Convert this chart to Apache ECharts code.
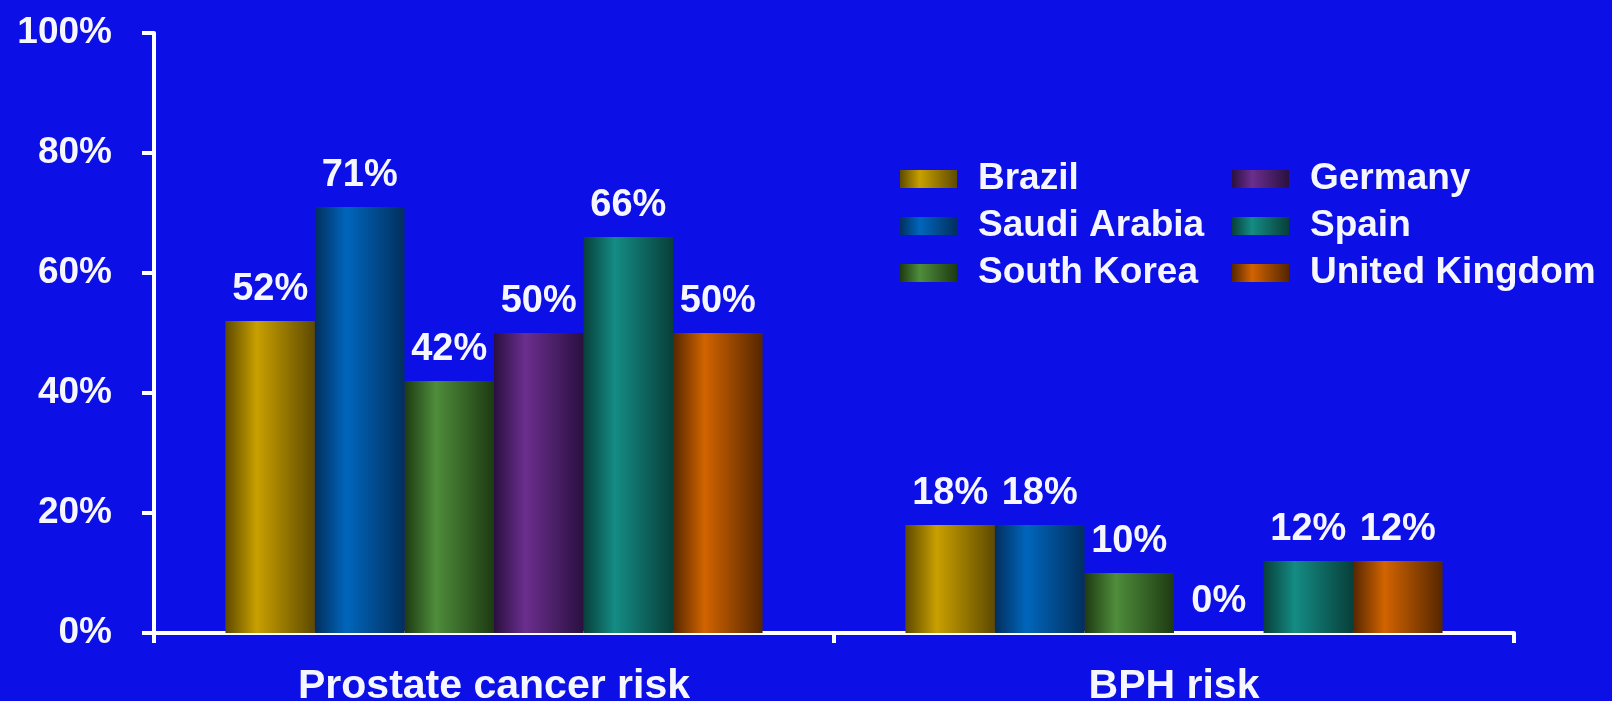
<!DOCTYPE html>
<html>
<head>
<meta charset="utf-8">
<script src="https://cdn.jsdelivr.net/npm/echarts@6/dist/echarts.min.js"></script>
<style>
    html, body { margin: 0; padding: 0; background: #0c10e6; }
    #risk { width: 1612px; height: 701px; }
</style>
</head>
<body>
<div id="risk"></div>
<script>
// categories + values per country (percent)
var categories = ['Prostate cancer risk', 'BPH risk'];
var countries = ['Brazil', 'Saudi Arabia', 'South Korea', 'Germany', 'Spain', 'United Kingdom'];
var brazil = [52, 18];
var saudiArabia = [71, 18];
var southKorea = [42, 10];
var germany = [50, 0];
var spain = [66, 12];
var unitedKingdom = [50, 12];
var yTicks = [0, 20, 40, 60, 80, 100];

// [edge, middle] for the cylinder look
var colors = [
    ['#5e4a00', '#c9a000'],
    ['#022f5e', '#0066bc'],
    ['#1d3a12', '#4f8d3b'],
    ['#2a1040', '#6b2e8e'],
    ['#083f3a', '#148c84'],
    ['#552600', '#d26400']
];

var font = "'Liberation Sans', Arial, sans-serif";
var values = [brazil, saudiArabia, southKorea, germany, spain, unitedKingdom];

var chart = echarts.init(document.getElementById('risk'));

var series = [];
values.forEach(function (data, i) {
    series.push({
        name: countries[i],
        type: 'bar',
        data: data,
        barGap: '0%',
        barCategoryGap: '21%',
        itemStyle: {
            color: new echarts.graphic.LinearGradient(0, 0, 1, 0, [
                { offset: 0, color: colors[i][0] },
                { offset: 0.35, color: colors[i][1] },
                { offset: 1, color: colors[i][0] }
            ])
        },
        label: {
            show: true,
            position: 'top',
            distance: 12,
            formatter: '{c}%',
            color: '#f6f6ff',
            fontFamily: font,
            fontWeight: 'bold',
            fontSize: 38
        }
    });
});

var legendText = {
    color: '#f6f6ff',
    fontFamily: font,
    fontWeight: 'bold',
    fontSize: 37,
    lineHeight: 40,
    padding: [0, 0, 0, 16]
};

chart.setOption({
    backgroundColor: '#0c10e6',
    animation: false,
    grid: {
        left: 154,
        right: 98,
        top: 33,
        bottom: 68,
        outerBoundsMode: 'none'
    },
    legend: [
        {
            data: countries.slice(0, 3),
            orient: 'vertical',
            left: 895,
            top: 154,
            icon: 'rect',
            itemWidth: 57,
            itemHeight: 18,
            itemGap: 7,
            textStyle: legendText
        },
        {
            data: countries.slice(3),
            orient: 'vertical',
            left: 1227,
            top: 154,
            icon: 'rect',
            itemWidth: 57,
            itemHeight: 18,
            itemGap: 7,
            textStyle: legendText
        }
    ],
    xAxis: {
        type: 'category',
        data: categories,
        axisLine: { lineStyle: { color: '#ffffff', width: 4 } },
        axisTick: { show: true, length: 10, lineStyle: { color: '#ffffff', width: 4 } },
        axisLabel: {
            margin: 33,
            color: '#f6f6ff',
            fontFamily: font,
            fontWeight: 'bold',
            fontSize: 41
        }
    },
    yAxis: {
        type: 'value',
        min: yTicks[0],
        max: yTicks[yTicks.length - 1],
        interval: yTicks[1] - yTicks[0],
        axisLine: { show: true, lineStyle: { color: '#ffffff', width: 4 } },
        axisTick: { show: true, length: 12, lineStyle: { color: '#ffffff', width: 4 } },
        splitLine: { show: false },
        axisLabel: {
            margin: 42,
            formatter: '{value}%',
            color: '#f6f6ff',
            fontFamily: font,
            fontWeight: 'bold',
            fontSize: 37
        }
    },
    series: series
});
</script>
</body>
</html>
